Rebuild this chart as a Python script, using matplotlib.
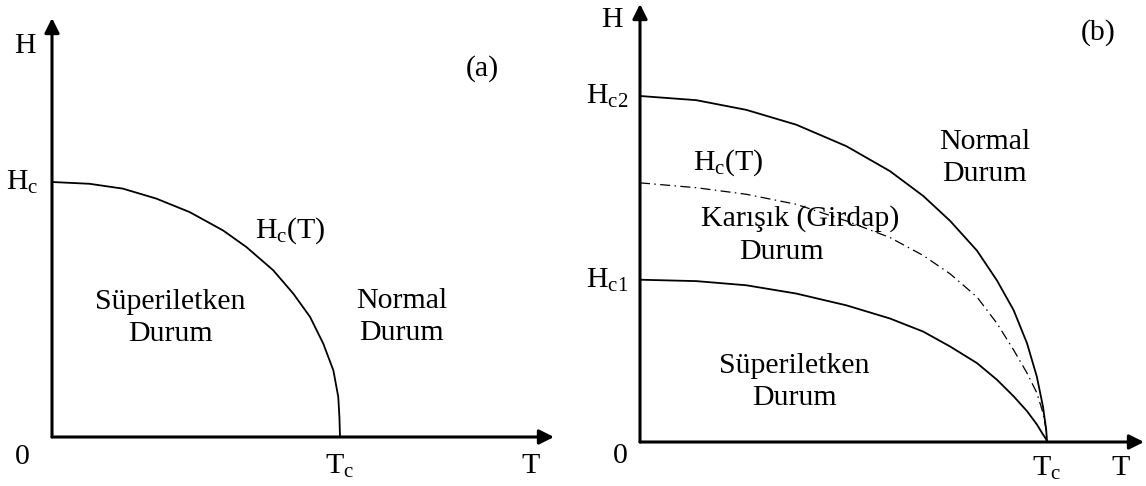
import matplotlib.pyplot as plt

plt.rcParams['font.family'] = ['Liberation Serif', 'DejaVu Serif']
plt.rcParams['mathtext.fontset'] = 'custom'
plt.rcParams['mathtext.rm'] = 'Liberation Serif'
plt.rcParams['mathtext.it'] = 'Liberation Serif'

# panel (a): T in units of Tc, H in units of Hc
a_t = [0, 0.13, 0.246, 0.362, 0.478, 0.594, 0.675, 0.768, 0.838, 0.896, 0.942, 0.977, 0.994, 0.998, 1.0]
a_h = [1, 0.993, 0.974, 0.935, 0.882, 0.81, 0.745, 0.654, 0.562, 0.471, 0.366, 0.261, 0.157, 0.078, 0]

# panel (b): T in units of Tc, H in units of Hc2
b_t = [0, 0.138, 0.261, 0.384, 0.507, 0.614, 0.696, 0.762, 0.828, 0.877, 0.918, 0.951, 0.975, 0.990, 0.998, 1.0]
hc2_h = [1, 0.988, 0.96, 0.917, 0.855, 0.783, 0.711, 0.639, 0.553, 0.467, 0.381, 0.285, 0.189, 0.103, 0.036, 0]
hc1_h = [0.469, 0.465, 0.453, 0.429, 0.395, 0.357, 0.319, 0.276, 0.228, 0.18, 0.132, 0.089, 0.051, 0.022, 0.008, 0]
hc_h = [0.749, 0.735, 0.716, 0.687, 0.639, 0.591, 0.539, 0.486, 0.419, 0.343, 0.266, 0.199, 0.142, 0.085, 0.035, 0]

W, H = 1146, 486
fig = plt.figure(figsize=(W / 100, H / 100), dpi=100)

FS = 21.5
LS = 1.3


def panel(px0, py0, px_tc, py_h1, px_tip, py_tip):
    # axes whose data (0,0) is the origin, (1,1) is (Tc, H unit)
    sx = px_tc - px0
    sy = py0 - py_h1
    xmax = (px_tip - px0) / sx
    ymax = (py0 - py_tip) / sy
    ax = fig.add_axes([px0 / W, (H - py0) / H, (px_tip - px0) / W, (py0 - py_tip) / H])
    ax.set_xlim(0, xmax)
    ax.set_ylim(0, ymax)
    ax.axis('off')
    arrow = dict(arrowstyle='-|>', lw=2.2, color='black', mutation_scale=22,
                 shrinkA=0, shrinkB=0)
    ax.annotate('', xy=(xmax, 0), xytext=(0, 0), arrowprops=arrow, annotation_clip=False)
    ax.annotate('', xy=(0, ymax), xytext=(0, 0), arrowprops=arrow, annotation_clip=False)
    return ax


def txt(ax, x, y, s, **kw):
    ax.text(x, y, s, fontsize=FS, ha='center', va='center', clip_on=False, **kw)


# ---- (a)
ax1 = panel(52, 437, 340, 182, 554, 18)
ax1.plot(a_t, a_h, color='black', lw=1.3, clip_on=False, solid_joinstyle='round')
txt(ax1, -0.093, 1.535, 'H')
txt(ax1, 1.495, 1.445, '(a)')
txt(ax1, -0.104, 1.0, r'H$_\mathrm{c}$')
txt(ax1, 0.827, 0.81, r'H$_\mathrm{c}$(T)')
txt(ax1, 0.412, 0.465, 'Süperiletken\nDurum', linespacing=LS)
txt(ax1, 1.215, 0.469, 'Normal\nDurum', linespacing=LS)
txt(ax1, -0.104, -0.08, '0')
txt(ax1, 1.0, -0.115, r'T$_\mathrm{c}$')
txt(ax1, 1.66, -0.115, 'T')

# ---- (b)
ax2 = panel(640, 442, 1047, 96, 1144, 4)
ax2.plot(b_t, hc2_h, color='black', lw=1.3, clip_on=False, solid_joinstyle='round')
ax2.plot(b_t, hc1_h, color='black', lw=1.3, clip_on=False, solid_joinstyle='round')
ax2.plot(b_t, hc_h, color='black', lw=0.9, linestyle=(0, (8, 3.5, 1.2, 3.5)), clip_on=False)
txt(ax2, -0.068, 1.22, 'H')
txt(ax2, 1.125, 1.183, '(b)')
txt(ax2, -0.081, 1.0, r'H$_\mathrm{c2}$')
txt(ax2, 0.218, 0.806, r'H$_\mathrm{c}$(T)')
txt(ax2, 0.846, 0.82, 'Normal\nDurum', linespacing=LS)
txt(ax2, 0.393, 0.646, 'Karışık (Girdap)')
txt(ax2, 0.348, 0.548, 'Durum')
txt(ax2, -0.081, 0.467, r'H$_\mathrm{c1}$')
txt(ax2, 0.379, 0.172, 'Süperiletken\nDurum', linespacing=LS)
txt(ax2, -0.049, -0.04, '0')
txt(ax2, 0.998, -0.075, r'T$_\mathrm{c}$')
txt(ax2, 1.18, -0.075, 'T')

fig.savefig('out.png', dpi=100)
